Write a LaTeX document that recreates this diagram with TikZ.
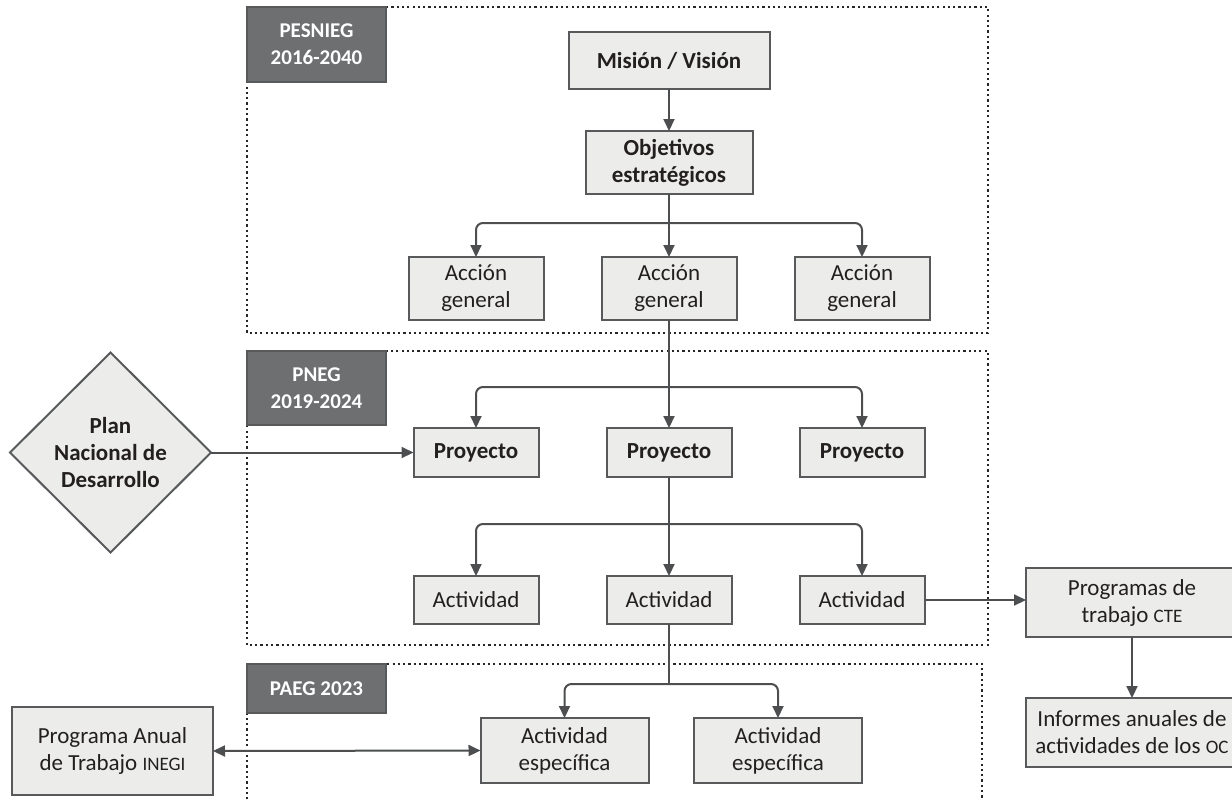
\documentclass[tikz,border=0pt]{standalone}
\usepackage{fontspec}
\setmainfont{Carlito}
\usetikzlibrary{shapes.geometric,arrows.meta,positioning,calc}

\definecolor{boxfill}{HTML}{ECEDEB}
\definecolor{boxline}{HTML}{58595B}
\definecolor{hdrfill}{HTML}{6D6F71}
\definecolor{linegray}{HTML}{4D4E50}
\definecolor{txtcol}{HTML}{231F20}

\newcommand{\smc}[1]{{\fontsize{9.5}{9.5}\selectfont #1}}

\tikzset{
  box/.style={draw=boxline, line width=1pt, fill=boxfill, rectangle, align=center, inner sep=0pt, text=txtcol, font=\fontsize{11.5}{13.5}\selectfont},
  bbox/.style={box, font=\fontsize{11.5}{13.5}\selectfont\bfseries},
  accbox/.style={box, minimum width=67.5pt, minimum height=31.5pt},
  proybox/.style={bbox, minimum width=62.5pt, minimum height=24.5pt},
  actbox/.style={box, minimum width=62.5pt, minimum height=24pt},
  espbox/.style={box, minimum width=84pt, minimum height=32.5pt},
  sidebox/.style={box, minimum width=106pt, minimum height=34.5pt},
  hdr/.style={draw=boxline, line width=1pt, fill=hdrfill, text=white, align=center, inner sep=0pt, minimum width=69.5pt, anchor=north west, font=\fontsize{10.5}{13.5}\selectfont\bfseries},
  frame/.style={draw=black!85, line width=1.2pt, dash pattern=on 1.1pt off 1.55pt},
  wire/.style={draw=linegray, line width=1pt},
  conn/.style={wire, -{Triangle[length=6pt,width=5.5pt]}},
  dconn/.style={wire, {Triangle[length=6pt,width=5.5pt]}-{Triangle[length=6pt,width=5.5pt]}},
}

\begin{document}
\begin{tikzpicture}[x=0.5pt, y=-0.5pt, outer sep=0pt]
        \useasboundingbox (0,0) rectangle (1232,800);

        % Frames
        \draw[frame] (247,7) rectangle (988,333);
        \draw[frame] (247,351) rectangle (988,645);
        \draw[frame] (247,810) |- (982,664) -- (982,810);

        % Headers
        \node[hdr, minimum height=37.5pt] (HdrPes) at (247,7) {PESNIEG\\2016-2040};
        \node[hdr, minimum height=37pt] (HdrPneg) at (247,351) {PNEG\\2019-2024};
        \node[hdr, minimum height=24.5pt] (HdrPaeg) at (247,664) {PAEG 2023};

        % PESNIEG
        \node[bbox, minimum width=100.5pt, minimum height=28.5pt] (Mision) at (669,60.5) {Misión / Visión};
        \node[bbox, minimum width=83.5pt, minimum height=31.5pt, below=21pt of Mision] (Objetivos) {Objetivos\\estratégicos};
        \node[accbox] (Accion1) at (476,288.5) {Acción\\general};
        \node[accbox, right=29pt of Accion1] (Accion2) {Acción\\general};
        \node[accbox, right=29pt of Accion2] (Accion3) {Acción\\general};

        % PNEG
        \node[proybox] (Proy1) at (476,452.5) {Proyecto};
        \node[proybox, right=34pt of Proy1] (Proy2) {Proyecto};
        \node[proybox, right=34pt of Proy2] (Proy3) {Proyecto};
        \node[actbox] (Act1) at (476,600) {Actividad};
        \node[actbox, right=34pt of Act1] (Act2) {Actividad};
        \node[actbox, right=34pt of Act2] (Act3) {Actividad};

        % PAEG
        \node[espbox] (Esp1) at (564.5,750.5) {Actividad\\específica};
        \node[espbox, right=22.75pt of Esp1] (Esp2) {Actividad\\específica};

        % Outside
        \node[diamond, aspect=1, draw=boxline, line width=1pt, fill=boxfill, inner sep=0pt, minimum width=100.5pt, minimum height=100pt, align=center, text=txtcol, font=\fontsize{11.5}{13.5}\selectfont\bfseries] (PND) at (110.5,452.5) {Plan\\Nacional de\\Desarrollo};
        \node[sidebox] (ProgCTE) at (1132,602.5) {Programas de\\trabajo \smc{CTE}};
        \node[sidebox, below=30.5pt of ProgCTE] (Informes) {Informes anuales de\\actividades de los \smc{OC}};
        \node[box, minimum width=100.5pt, minimum height=44pt] (PAT) at (112.5,751) {Programa Anual\\de Trabajo \smc{INEGI}};

        % Arrows
        \draw[conn] (Mision) -- (Objetivos);
        \draw[wire] (Objetivos.south) -- ++(0,29) coordinate (SplitA);
        \draw[conn] (Objetivos.south) -- (Accion2.north);
        \draw[conn, rounded corners=3.5pt] (SplitA) -| (Accion1.north);
        \draw[conn, rounded corners=3.5pt] (SplitA) -| (Accion3.north);

        \coordinate (SplitB) at ($(Proy2.north)+(0,-41)$);
        \draw[conn] (Accion2.south) -- (Proy2.north);
        \draw[conn, rounded corners=3.5pt] (SplitB) -| (Proy1.north);
        \draw[conn, rounded corners=3.5pt] (SplitB) -| (Proy3.north);

        \coordinate (SplitC) at ($(Act2.north)+(0,-52)$);
        \draw[conn] (Proy2.south) -- (Act2.north);
        \draw[conn, rounded corners=3.5pt] (SplitC) -| (Act1.north);
        \draw[conn, rounded corners=3.5pt] (SplitC) -| (Act3.north);

        \draw[wire] (Act2.south) -- ++(0,60) coordinate (SplitD);
        \draw[conn, rounded corners=3.5pt] (SplitD) -| (Esp1.north);
        \draw[conn, rounded corners=3.5pt] (SplitD) -| (Esp2.north);

        \draw[conn] (PND.east) -- (Proy1.west);
        \draw[conn] (Act3.east) -- (Act3.east -| ProgCTE.west);
        \draw[conn] (ProgCTE) -- (Informes);
        \draw[dconn] (PAT.east) -- (Esp1.west);
    \end{tikzpicture}
\end{document}
